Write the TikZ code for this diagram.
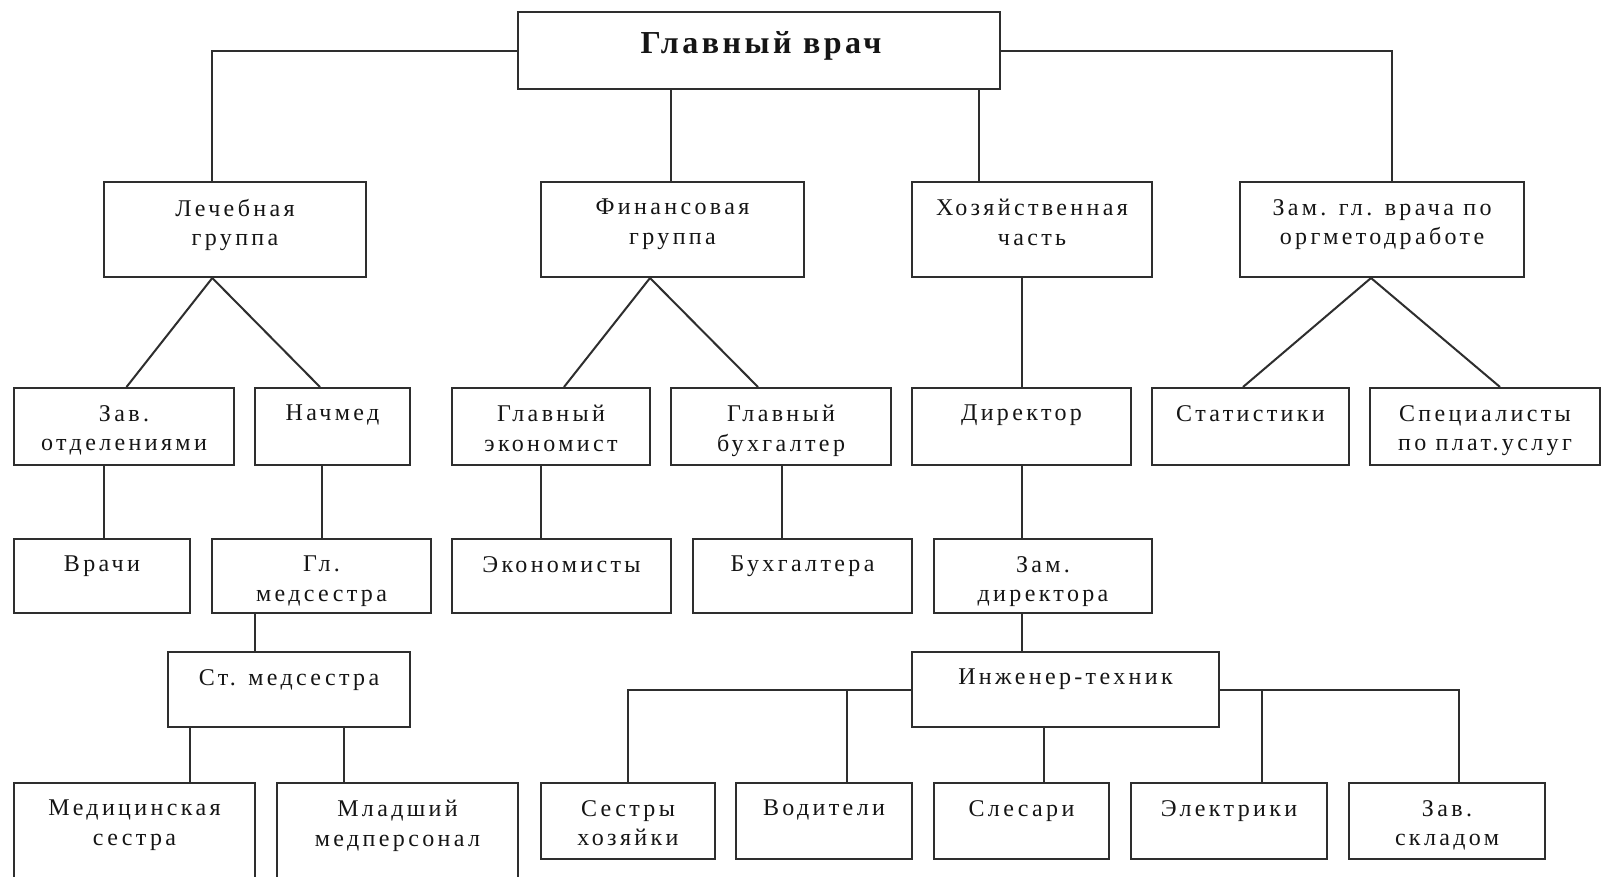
\documentclass[tikz,border=0pt]{standalone}
\usepackage{fontspec}
\setmainfont{Liberation Serif}
\newfontfamily\bodyfont[LetterSpace=14]{Liberation Serif}
\newfontfamily\titlefont[LetterSpace=11]{Liberation Serif}
\definecolor{linec}{HTML}{2E2E2E}
\definecolor{textc}{HTML}{151515}
\tikzset{
  box/.style={draw=linec, line width=2pt, fill=white, rectangle, inner sep=0pt},
  txt/.style={font=\bodyfont\fontsize{24}{29.5}\selectfont, align=center, inner sep=0pt, anchor=north, text=textc},
  ttl/.style={font=\titlefont\bfseries\fontsize{32}{36}\selectfont, inner sep=0pt, anchor=base, text=textc},
  conn/.style={draw=linec, line width=2pt},
}
\newcommand{\orgbox}[6]{%
  \node[box, minimum width={#4-#2}, minimum height={#5-#3}] (#1) at ({(#2+#4)/2},{(#3+#5)/2}) {};
  \node[txt] (#1t) at ([yshift=-18pt]#1.north) {#6};
}
\begin{document}
\begin{tikzpicture}[x=1pt, y=-1pt]
\useasboundingbox (0,0) rectangle (1602,876);
\clip (0,0) rectangle (1602,876);
\fill[white] (0,0) rectangle (1602,876);
% top
\node[box, minimum width=482, minimum height=77] (main) at (759,50.5) {};
\node[ttl] (maint) at (761,53) {Главный врач};
% level 2
\orgbox{lech}{104}{182}{366}{277}{Лечебная\\группа}
\orgbox{fin}{541}{182}{804}{277}{Финансовая\\группа}
\orgbox{hoz}{912}{182}{1152}{277}{Хозяйственная\\часть}
\orgbox{zam}{1240}{182}{1524}{277}{Зам. гл. врача по\\оргметодработе}
% level 3
\orgbox{zav}{14}{388}{234}{465}{Зав.\\отделениями}
\orgbox{nach}{255}{388}{410}{465}{Начмед}
\orgbox{glek}{452}{388}{650}{465}{Главный\\экономист}
\orgbox{glbuh}{671}{388}{891}{465}{Главный\\бухгалтер}
\orgbox{dir}{912}{388}{1131}{465}{Директор}
\orgbox{stat}{1152}{388}{1349}{465}{Статистики}
\orgbox{spec}{1370}{388}{1600}{465}{Специалисты\\по плат.услуг}
% level 4
\orgbox{vrachi}{14}{539}{190}{613}{Врачи}
\orgbox{glmed}{212}{539}{431}{613}{Гл.\\медсестра}
\orgbox{ekon}{452}{539}{671}{613}{Экономисты}
\orgbox{buh}{693}{539}{912}{613}{Бухгалтера}
\orgbox{zamdir}{934}{539}{1152}{613}{Зам.\\директора}
% level 5
\orgbox{stmed}{168}{652}{410}{727}{Ст. медсестра}
\orgbox{ingtech}{912}{652}{1219}{727}{Инженер-техник}
% level 6
\orgbox{medsis}{14}{783}{255}{900}{Медицинская\\сестра}
\orgbox{mlad}{277}{783}{518}{900}{Младший\\медперсонал}
\orgbox{sestry}{541}{783}{715}{859}{Сестры\\хозяйки}
\orgbox{vod}{736}{783}{912}{859}{Водители}
\orgbox{sles}{934}{783}{1109}{859}{Слесари}
\orgbox{elek}{1131}{783}{1327}{859}{Электрики}
\orgbox{zavskl}{1349}{783}{1545}{859}{Зав.\\складом}
% connectors from main
\draw[conn] (main.west) -| ([xshift=-22.7pt]lech.north);
\draw[conn] (main.east) -| ([xshift=10pt]zam.north);
\coordinate (a1) at ([xshift=-1.5pt]fin.north);
\draw[conn] (a1) -- (a1 |- main.south);
\coordinate (a2) at ([xshift=-53pt]hoz.north);
\draw[conn] (a2) -- (a2 |- main.south);
% diagonals
\coordinate (lechap) at ([xshift=-22.7pt]lech.south);
\draw[conn] (lechap) -- ([xshift=2.5pt]zav.north);
\draw[conn] (lechap) -- ([xshift=-12.5pt]nach.north);
\coordinate (finap) at ([xshift=-22.5pt]fin.south);
\draw[conn] (finap) -- ([xshift=13pt]glek.north);
\draw[conn] (finap) -- ([xshift=-23pt]glbuh.north);
\coordinate (zamap) at ([xshift=-11pt]zam.south);
\draw[conn] (zamap) -- ([xshift=-7.5pt]stat.north);
\draw[conn] (zamap) -- ([xshift=15pt]spec.north);
% verticals
\coordinate (h1) at ([xshift=-10pt]hoz.south);
\draw[conn] (h1) -- (h1 |- dir.north);
\coordinate (z1) at ([xshift=-20pt]zav.south);
\draw[conn] (z1) -- (z1 |- vrachi.north);
\coordinate (n1) at ([xshift=-10.5pt]nach.south);
\draw[conn] (n1) -- (n1 |- glmed.north);
\coordinate (g1) at ([xshift=-10pt]glek.south);
\draw[conn] (g1) -- (g1 |- ekon.north);
\coordinate (b1) at ([xshift=1pt]glbuh.south);
\draw[conn] (b1) -- (b1 |- buh.north);
\coordinate (d1) at ([xshift=0.5pt]dir.south);
\draw[conn] (d1) -- (d1 |- zamdir.north);
\coordinate (m1) at ([xshift=-66.5pt]glmed.south);
\draw[conn] (m1) -- (m1 |- stmed.north);
\coordinate (zd1) at ([xshift=-21pt]zamdir.south);
\draw[conn] (zd1) -- (zd1 |- ingtech.north);
\coordinate (s1) at ([xshift=-99pt]stmed.south);
\draw[conn] (s1) -- (s1 |- medsis.north);
\coordinate (s2) at ([xshift=55pt]stmed.south);
\draw[conn] (s2) -- (s2 |- mlad.north);
% engineer branches
\draw[conn] (ingtech.west) -| (sestry.north);
\coordinate (v1) at ([xshift=23pt]vod.north);
\draw[conn] (v1) -- (v1 |- ingtech.west);
\coordinate (i1) at ([xshift=-21.5pt]ingtech.south);
\draw[conn] (i1) -- (i1 |- sles.north);
\draw[conn] (ingtech.east) -| ([xshift=12pt]zavskl.north);
\coordinate (e1) at ([xshift=33pt]elek.north);
\draw[conn] (e1) -- (e1 |- ingtech.east);
\end{tikzpicture}
\end{document}
